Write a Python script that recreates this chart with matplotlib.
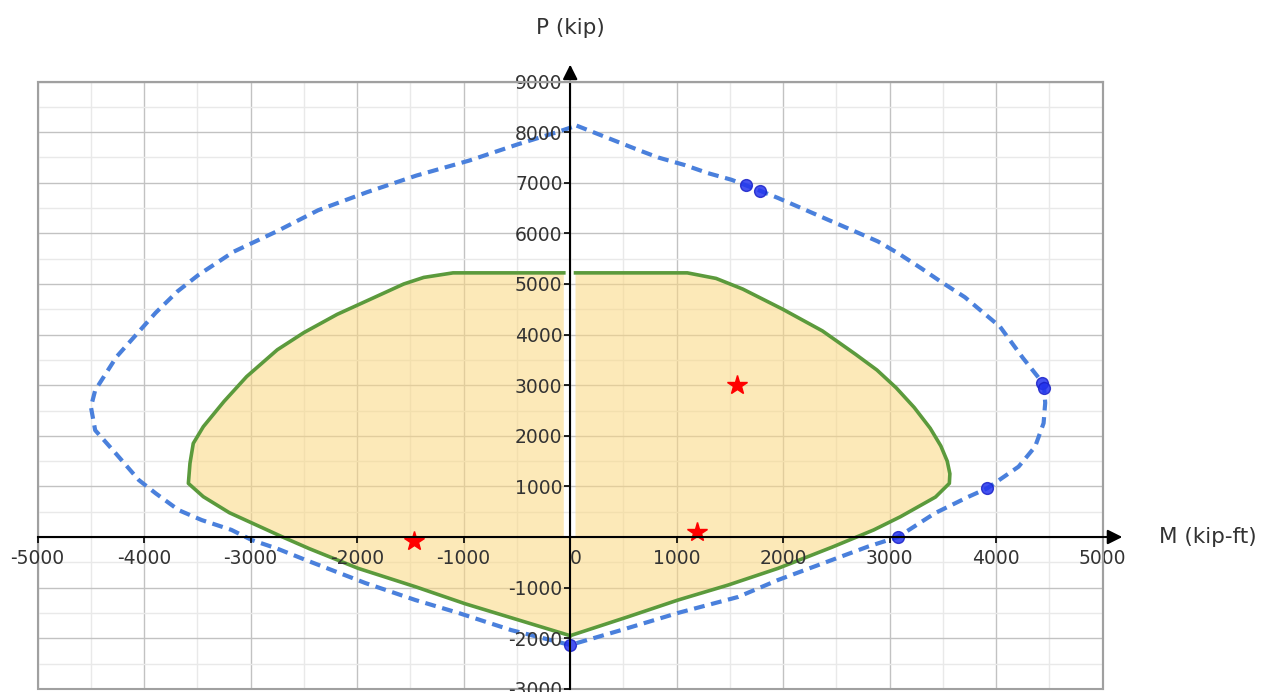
import matplotlib.pyplot as plt
import numpy as np
from matplotlib.patches import Rectangle

# Outer (nominal) interaction diagram, dashed, read clockwise from the top
outer_m = [60, 638, 826, 1076, 1295, 1514, 1780, 1951, 2170, 2420, 2640, 2890, 3077,
           3296, 3484, 3705, 4036, 4250, 4440, 4450, 4460, 4445, 4365, 4210, 3915, 3734,
           3424, 3077, 2795, 1951, 1576, 1013, 478, 0, -553, -1050, -1454, -1923, -2500,
           -2750, -2990, -3180, -3460, -3675, -3890, -4050, -4270, -4460, -4500, -4460,
           -4260, -3893, -3686, -3488, -3158, -2762, -2366, -1904, -1442, -950, -485, -125]
outer_p = [8130, 7650, 7500, 7350, 7190, 7060, 6845, 6700, 6500, 6270, 6070, 5840, 5610,
           5310, 5040, 4740, 4156, 3540, 3037, 2940, 2650, 2250, 1785, 1390, 962, 790,
           470, 0, -190, -850, -1185, -1500, -1840, -2134, -1840, -1500, -1245, -910, -440,
           -230, -60, 140, 335, 530, 860, 1125, 1660, 2110, 2570, 2900,
           3560, 4430, 4856, 5183, 5640, 6033, 6458, 6817, 7144, 7438, 7765, 8000]

# Design (reduced) diagram, right and left halves
right_m = [50, 1100, 1370, 1620, 1994, 2368, 2680, 2880, 3060, 3230, 3380, 3480, 3540,
           3565, 3560, 3430, 3100, 2850, 2461, 1951, 1482, 1013, 544, 0]
right_p = [5220, 5220, 5110, 4900, 4503, 4073, 3610, 3300, 2950, 2560, 2150, 1800, 1500,
           1250, 1060, 790, 400, 140, -199, -620, -950, -1245, -1576, -1950]
left_m = [-60, -1100, -1375, -1563, -1875, -2188, -2500, -2750, -3038, -3250, -3445, -3539,
          -3570, -3585, -3445, -3200, -2950, -2700, -2450, -1990, -1450, -985, -516, 0]
left_p = [5220, 5220, 5130, 5000, 4700, 4400, 4040, 3700, 3170, 2680, 2180, 1850,
          1456, 1060, 797, 480, 240, 0, -230, -620, -985, -1320, -1620, -1950]

# Points on the nominal curve
dot_m = [1650, 1780, 4430, 4445, 3915, 3077, 0]
dot_p = [6960, 6845, 3037, 2940, 962, 0, -2134]

# Load cases
star_m = [1563, 1188, -1462]
star_p = [3004, 105, -79]

x_ticks = list(range(-5000, 5001, 1000))
y_ticks = list(range(-3000, 9001, 1000))
x_tick_labels = [str(v) for v in x_ticks]
y_tick_labels = ['' if v == 0 else str(v) for v in y_ticks]

rect = [0.0298, 0.0046, 0.8426, 0.8775]
fig = plt.figure(figsize=(12.64, 6.92), dpi=100)

# data axes: grid + curves
ax = fig.add_axes(rect)
ax.set_xlim(-5000, 5000)
ax.set_ylim(-3000, 9000)
ax.set_xticks(x_ticks)
ax.set_yticks(y_ticks)
ax.set_xticks(np.arange(-5000, 5001, 500), minor=True)
ax.set_yticks(np.arange(-3000, 9001, 500), minor=True)
ax.grid(which='major', color='#c2c2c2', lw=1)
ax.grid(which='minor', color='#e9e9e9', lw=1)
ax.set_axisbelow(True)
ax.tick_params(which='both', length=0, labelbottom=False, labelleft=False)
for s in ax.spines.values():
    s.set_visible(False)

# filled design region (two halves, open along the P axis above M = 0)
fill_kw = dict(facecolor='#fbd77f', alpha=0.55, edgecolor='none', zorder=1)
ax.fill(right_m + [right_m[-1], right_m[0]], right_p + [0, 0], **fill_kw)
ax.fill(left_m + [left_m[-1], left_m[0]], left_p + [0, 0], **fill_kw)
ax.plot(right_m, right_p, color='#5b9a3c', lw=2.6, zorder=3)
ax.plot(left_m, left_p, color='#5b9a3c', lw=2.6, zorder=3)

# nominal curve
ax.plot(outer_m + outer_m[:1], outer_p + outer_p[:1], color='#4a80dc', lw=3,
        dashes=(2.6, 1.6), zorder=4)
ax.plot(dot_m, dot_p, 'o', color='#2434ee', mec='#1a22c8', ms=8.5, alpha=0.85,
        zorder=5, clip_on=False)

# load cases
ax.plot(star_m, star_p, '*', color='red', ms=15, zorder=6)

# overlay axes: axis lines through origin, ticks, labels, box
ax2 = fig.add_axes(rect)
ax2.set_xlim(-5000, 5000)
ax2.set_ylim(-3000, 9000)
ax2.patch.set_visible(False)
for s in ['left', 'bottom']:
    ax2.spines[s].set_position(('data', 0))
    ax2.spines[s].set_color('black')
    ax2.spines[s].set_linewidth(1.5)
for s in ['right', 'top']:
    ax2.spines[s].set_color('#a0a0a0')
    ax2.spines[s].set_linewidth(1.5)
ax2.add_patch(Rectangle((0, 0), 1, 1, transform=ax2.transAxes, fill=False,
                        edgecolor='#a0a0a0', lw=1.5, clip_on=False))

ax2.set_xticks(x_ticks, labels=x_tick_labels)
ax2.set_yticks(y_ticks, labels=y_tick_labels)
ax2.tick_params(direction='out', length=4.5, width=1.2, color='black',
                labelsize=13.5, labelcolor='#333333')
ax2.tick_params(axis='x', pad=4)
ax2.tick_params(axis='y', pad=1)
for lbl in ax2.get_xticklabels():
    if lbl.get_text() == '0':
        lbl.set_horizontalalignment('left')

# arrows
ax2.annotate('', xy=(5210, 0), xytext=(4990, 0), annotation_clip=False,
             arrowprops=dict(arrowstyle='-|>', color='black', lw=1.5, mutation_scale=22))
ax2.annotate('', xy=(0, 9390), xytext=(0, 8990), annotation_clip=False,
             arrowprops=dict(arrowstyle='-|>', color='black', lw=1.5, mutation_scale=22))

# axis titles
fig.text(570 / 1264, 1 - 28 / 692, 'P (kip)', ha='center', va='center',
         fontsize=15.5, color='#333333')
ax2.text(5530, 0, 'M (kip-ft)', ha='left', va='center', fontsize=15.5,
         color='#333333', clip_on=False)

fig.savefig('out.png', dpi=100)
